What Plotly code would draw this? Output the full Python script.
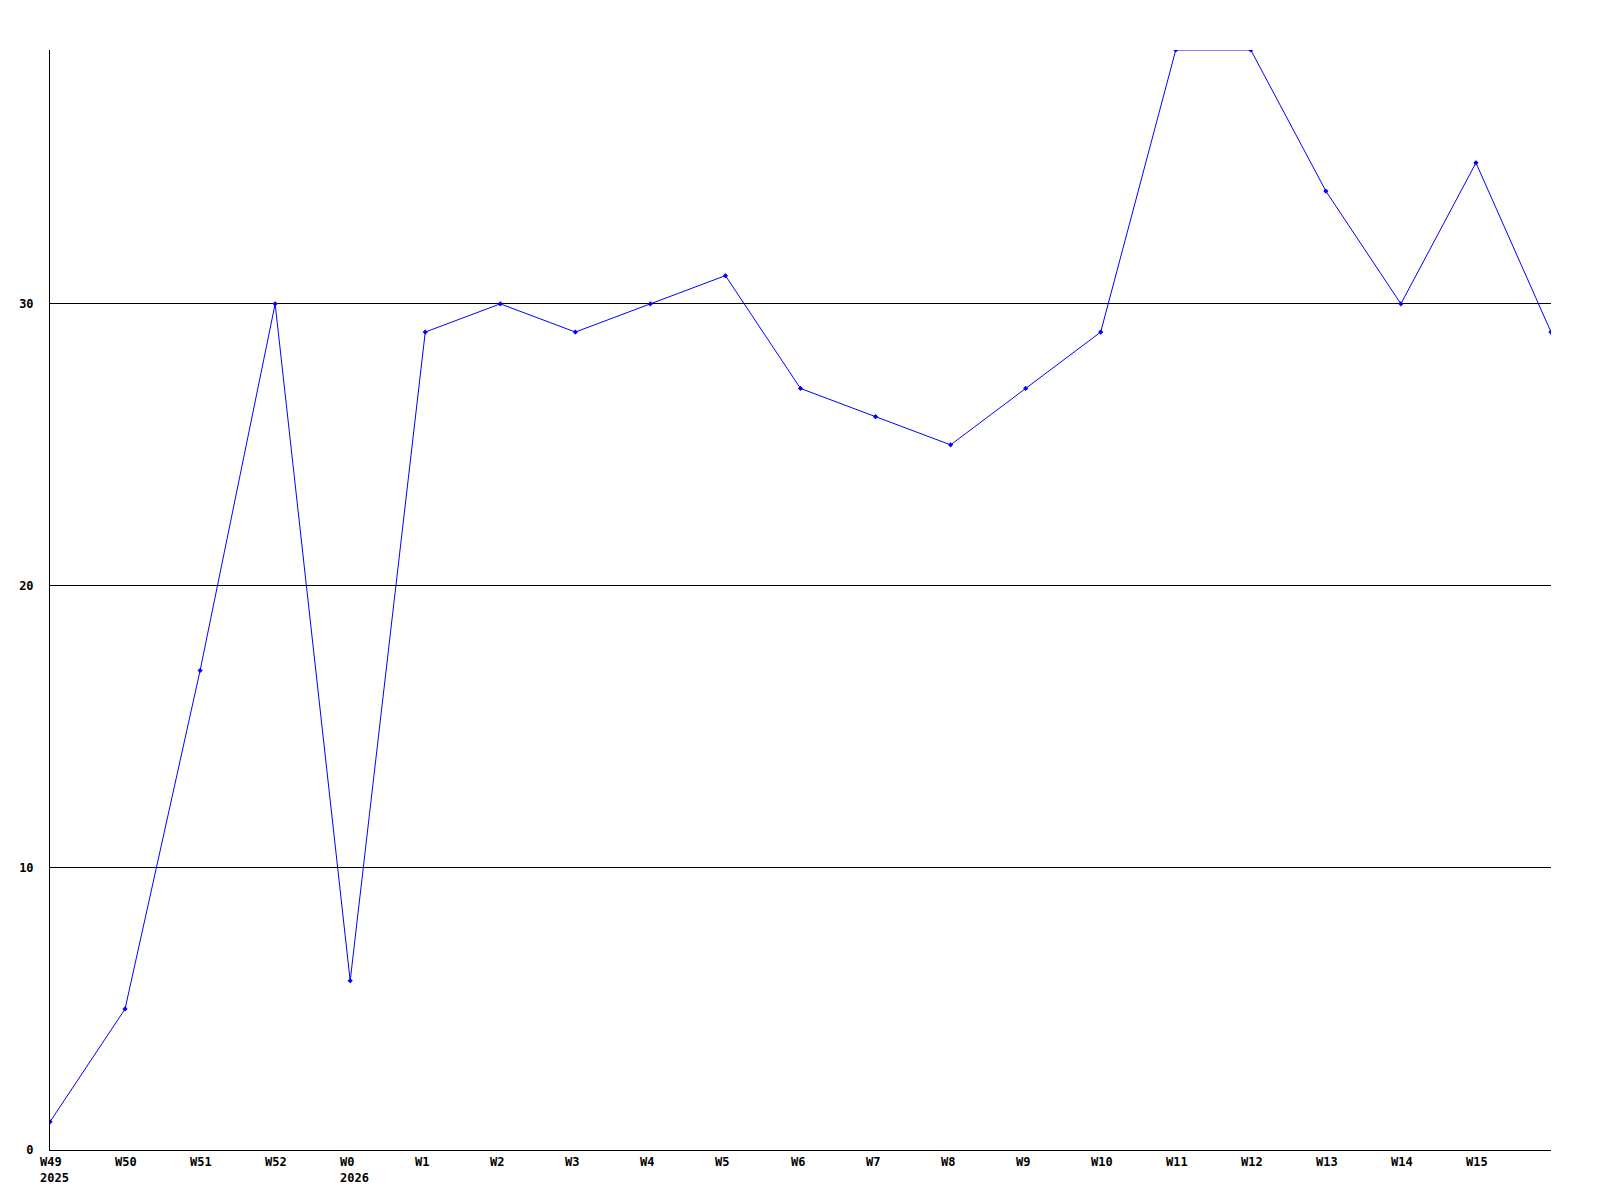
import plotly.graph_objects as go

weeks = ['W49', 'W50', 'W51', 'W52', 'W0', 'W1', 'W2', 'W3', 'W4', 'W5', 'W6',
         'W7', 'W8', 'W9', 'W10', 'W11', 'W12', 'W13', 'W14', 'W15', 'W16']
years = {'W49': '2025', 'W0': '2026'}
counts = [1, 5, 17, 30, 6, 29, 30, 29, 30, 31, 27,
          26, 25, 27, 29, 39, 39, 34, 30, 35, 29]
y_ticks = [0, 10, 20, 30]

FONT = dict(family='DejaVu Sans Mono', size=12, color='black')

idx = list(range(len(weeks)))

fig = go.Figure()
fig.add_trace(go.Scatter(
    x=idx, y=counts, mode='lines+markers',
    line=dict(color='#0000ff', width=1),
    marker=dict(color='#0000ff', size=4, symbol='diamond'),
    cliponaxis=True, showlegend=False,
))

# week labels, left-aligned just before each tick (last one falls on the edge)
for i, w in enumerate(weeks[:-1]):
    txt = '<b>%s</b>' % w
    if w in years:
        txt += '<br><b>%s</b>' % years[w]
    fig.add_annotation(
        x=i, y=0, xref='x', yref='paper', text=txt, showarrow=False,
        xanchor='left', yanchor='top', align='left', xshift=-12, yshift=-3,
        font=FONT,
    )

# page body adds 8px, so margins are offset to keep the plot at 50..1551 / 50..1150
fig.update_layout(
    width=1600, height=1200,
    margin=dict(l=42, r=57, t=42, b=58),
    paper_bgcolor='white', plot_bgcolor='white',
    font=FONT,
)
fig.update_xaxes(range=[0, 20], showgrid=False, zeroline=False,
                 showline=True, linecolor='black', linewidth=1,
                 showticklabels=False, ticks='', automargin=False)
fig.update_yaxes(range=[0, 39], tickvals=y_ticks,
                 ticktext=['<b>%d</b>' % v for v in y_ticks],
                 showgrid=True, gridcolor='black', gridwidth=1,
                 zeroline=False, showline=True, linecolor='black', linewidth=1,
                 ticks='', ticklabelstandoff=13, automargin=False)

fig.write_html('out.html')
